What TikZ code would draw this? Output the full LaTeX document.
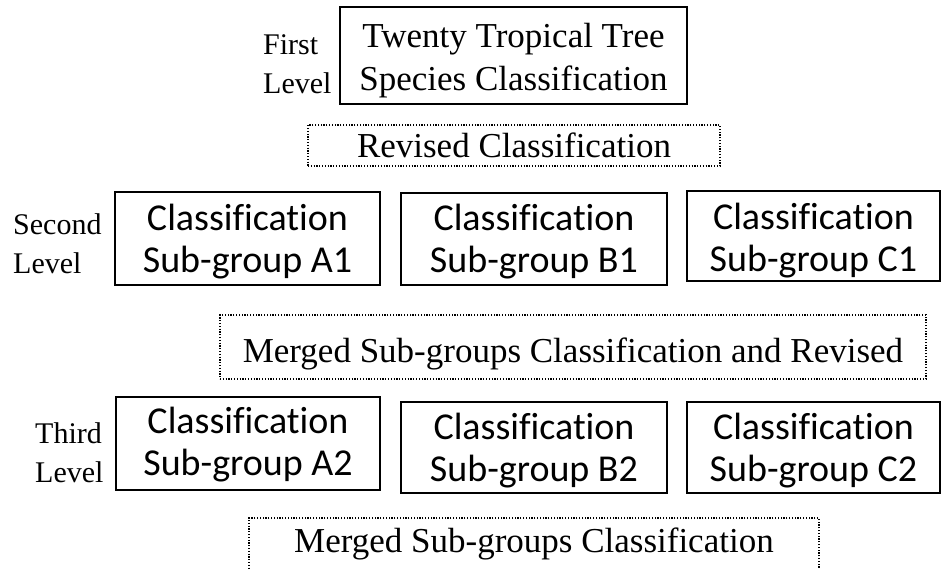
\documentclass[tikz,border=0pt]{standalone}
\usepackage{fontspec}
\setmainfont[Ligatures=CommonOff]{Liberation Serif}
\newfontfamily\carlito[Ligatures=CommonOff]{Carlito}
\begin{document}
\begin{tikzpicture}[x=1pt, y=-1pt,
    topbox/.style={draw, line width=1.5pt, inner sep=0pt, align=center, anchor=base,
        font=\fontsize{35}{43}\selectfont},
    groupbox/.style={draw, line width=1.5pt, inner sep=0pt, align=center, anchor=base,
        font=\carlito\fontsize{38}{42}\selectfont},
    mergebox/.style={draw, line width=1.4pt, dash pattern=on 1.2pt off 1.6pt,
        inner sep=0pt, anchor=base, font=\fontsize{35}{43}\selectfont},
    levellabel/.style={inner sep=0pt, align=left, anchor=north west,
        font=\fontsize{30}{39}\selectfont}]
    \clip (0,0) rectangle (943,568);

    % --- 1. 第一层 (First Level) ---
    % 多行节点: base 锚点在最后一行的基线上
    \node[levellabel] (lab1) at (263,34) {First\\Level};
    \node[topbox, minimum width=347pt, text height=83pt, text depth=14pt] (first) at (513.5,90)
        {Twenty Tropical Tree\\Species Classification};
    % 虚线框: 修订
    \node[mergebox, minimum width=412pt, text height=32pt, text depth=9pt] (revised) at (514,157)
        {Revised Classification};

    % --- 2. 第二层 (Second Level) ---
    \node[levellabel] (lab2) at (13,213) {Second\\Level};
    \node[groupbox, minimum width=265pt, text height=80pt, text depth=13pt] (a1) at (247.5,272)
        {Classification\\Sub-group A1};
    \node[groupbox, minimum width=266pt, text height=79pt, text depth=13pt] (b1) at (534,272)
        {Classification\\Sub-group B1};
    \node[groupbox, minimum width=253pt, text height=80pt, text depth=10pt] (c1) at (813.5,271)
        {Classification\\Sub-group C1};
    % 合并后再修订
    \node[mergebox, minimum width=706pt, text height=47pt, text depth=17pt] (merged1) at (573,362)
        {Merged Sub-groups Classification and Revised};

    % --- 3. 第三层 (Third Level) ---
    \node[levellabel] (lab3) at (35,422) {Third\\Level};
    \node[groupbox, minimum width=264pt, text height=78pt, text depth=15pt] (a2) at (248,475)
        {Classification\\Sub-group A2};
    \node[groupbox, minimum width=266pt, text height=79pt, text depth=12pt] (b2) at (534,481)
        {Classification\\Sub-group B2};
    \node[groupbox, minimum width=253pt, text height=79pt, text depth=12pt] (c2) at (813.5,481)
        {Classification\\Sub-group C2};
    % 最后合并 (下边框在图外)
    \node[mergebox, minimum width=570pt, text height=34pt, text depth=28pt] (merged2) at (534,552)
        {Merged Sub-groups Classification};

\end{tikzpicture}
\end{document}
